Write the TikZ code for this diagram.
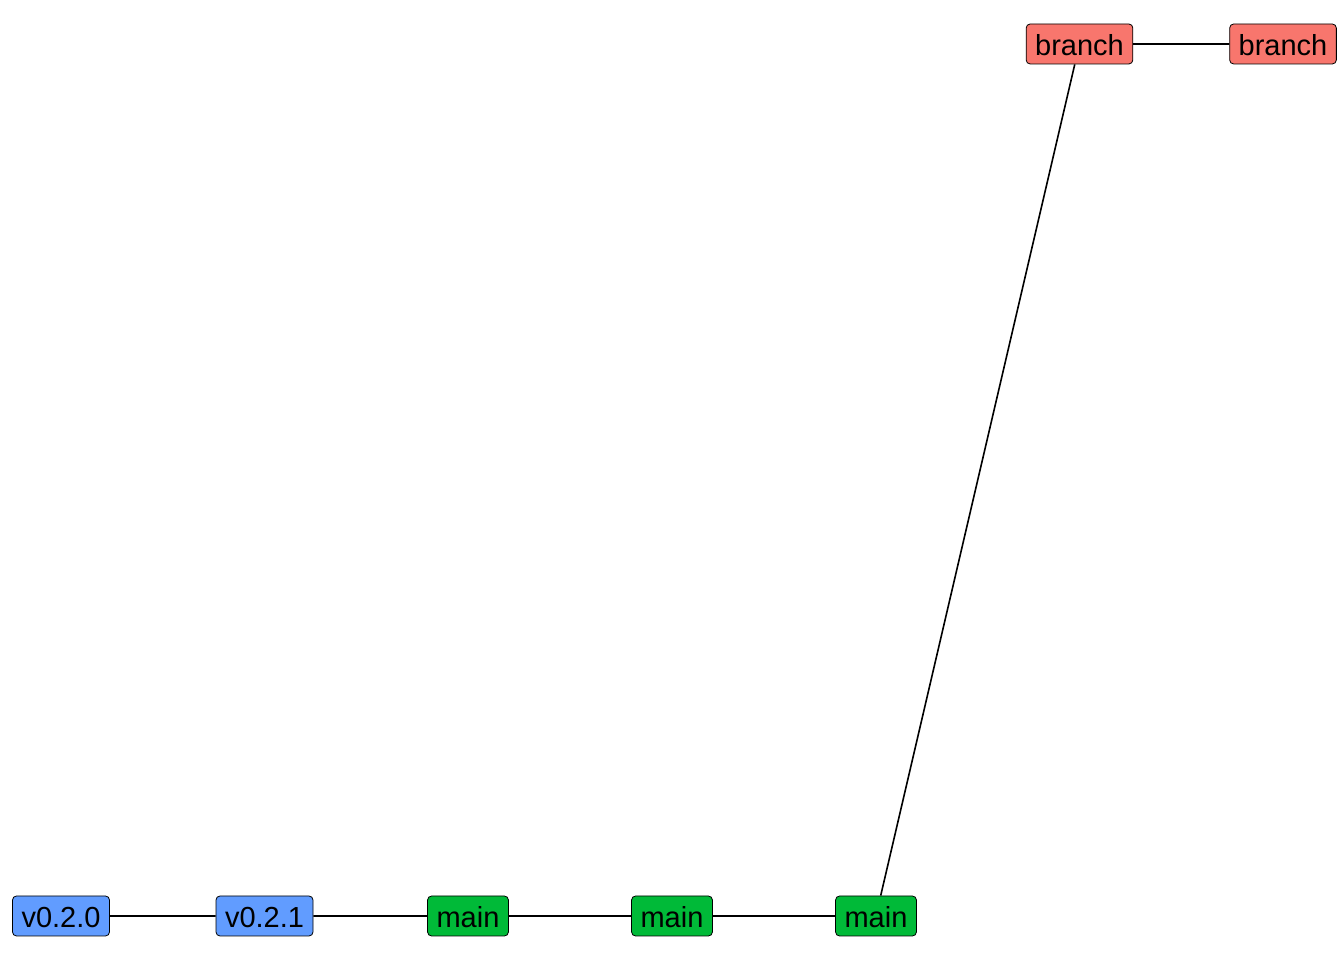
\documentclass[tikz,border=0pt]{standalone}
\usepackage{fontspec}
\setmainfont{Liberation Sans}
\definecolor{tagblue}{HTML}{619CFF}
\definecolor{maingreen}{HTML}{00BA38}
\definecolor{branchred}{HTML}{F8766D}
\tikzset{
  commit/.style={draw=black, line width=0.8pt, rounded corners=4pt, minimum height=40pt,
    inner xsep=9pt, inner ysep=0pt, text height=25pt, text depth=1pt,
    font=\fontsize{29}{33}\selectfont},
  link/.style={line width=1.6pt}
}
\begin{document}
\begin{tikzpicture}[x=1pt, y=1pt]
    \useasboundingbox (0,0) rectangle (1344,960);
    \node[commit, fill=tagblue] (v020) at (61,44) {v0.2.0};
    \node[commit, fill=tagblue] (v021) at (264.5,44) {v0.2.1};
\foreach \n/\x in {1/468,2/672,3/876}
{
    \node[commit, fill=maingreen] (main\n) at (\x,44) {main};
}
    \node[commit, fill=branchred] (branch1) at (1079.5,916) {branch};
    \node[commit, fill=branchred] (branch2) at (1283,916) {branch};
    \draw[link](v020)--(v021)--(main1)--(main2)--(main3)--(branch1)--(branch2);
\end{tikzpicture}
\end{document}
